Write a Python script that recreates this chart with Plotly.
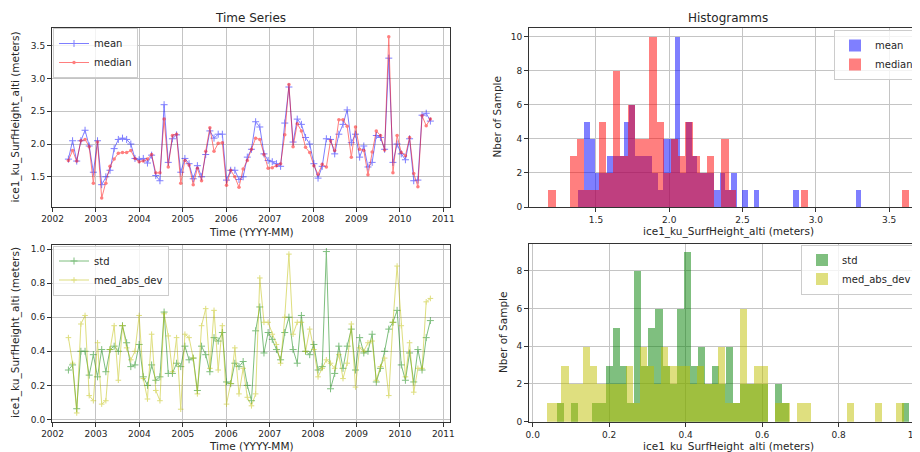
import numpy as np
import pandas as pd
import plotly.graph_objects as go

# ---------------- data ----------------
dates = pd.date_range("2002-05-14", periods=88, freq="35D")

mean_vals = [1.77, 2.05, 1.74, 2.05, 2.21, 1.97, 1.57, 2.05, 1.38, 1.50,
             1.60, 1.93, 2.07, 2.09, 2.07, 2.00, 1.78, 1.76, 1.78, 1.71,
             1.83, 1.52, 1.44, 2.60, 1.72, 2.08, 2.14, 1.57, 1.78, 1.70,
             1.47, 1.67, 1.50, 1.84, 2.20, 2.09, 2.15, 2.15, 1.45, 1.60,
             1.60, 1.46, 1.50, 1.80, 1.92, 2.34, 2.26, 1.85, 1.75, 1.73,
             1.70, 1.66, 2.32, 2.87, 2.03, 2.38, 2.30, 2.10, 2.00, 1.70,
             1.48, 1.66, 2.08, 2.07, 1.85, 2.15, 2.30, 2.52, 2.02, 2.15,
             1.80, 1.97, 1.65, 1.72, 2.13, 2.10, 1.92, 3.31, 1.72, 2.00,
             1.85, 1.76, 2.08, 1.44, 1.45, 2.44, 2.47, 2.35]

median_vals = [1.75, 1.90, 1.74, 2.05, 2.07, 1.96, 1.40, 2.03, 1.175, 1.40,
               1.66, 1.77, 1.86, 1.87, 1.87, 1.90, 1.78, 1.73, 1.74, 1.77,
               1.84, 1.56, 1.56, 2.38, 1.65, 2.13, 2.15, 1.40, 1.75, 1.68,
               1.38, 1.63, 1.44, 1.89, 2.25, 1.89, 2.01, 2.02, 1.37, 1.60,
               1.50, 1.34, 1.62, 1.75, 1.92, 2.09, 2.07, 1.84, 1.63, 1.64,
               1.67, 1.70, 2.14, 2.91, 1.96, 2.31, 2.20, 1.95, 1.87, 1.67,
               1.54, 1.69, 1.65, 2.05, 1.90, 2.37, 2.37, 2.27, 1.80, 2.26,
               1.92, 1.90, 1.53, 1.88, 2.20, 2.13, 1.91, 3.636, 1.56, 2.13,
               1.87, 1.82, 2.10, 1.55, 1.35, 2.43, 2.28, 2.38]

std_vals = [0.29, 0.32, 0.063, 0.40, 0.40, 0.26, 0.38, 0.25, 0.41, 0.28,
            0.41, 0.43, 0.40, 0.55, 0.45, 0.31, 0.32, 0.44, 0.25, 0.20,
            0.32, 0.23, 0.25, 0.63, 0.27, 0.27, 0.33, 0.31, 0.43, 0.35,
            0.36, 0.17, 0.43, 0.38, 0.28, 0.48, 0.46, 0.51, 0.22, 0.21,
            0.33, 0.31, 0.34, 0.20, 0.11, 0.52, 0.66, 0.39, 0.51, 0.47,
            0.41, 0.35, 0.51, 0.60, 0.41, 0.33, 0.61, 0.40, 0.38, 0.44,
            0.29, 0.31, 0.985, 0.18, 0.27, 0.43, 0.30, 0.43, 0.53, 0.29,
            0.48, 0.39, 0.40, 0.50, 0.22, 0.30, 0.40, 0.53, 0.57, 0.64,
            0.32, 0.23, 0.39, 0.22, 0.41, 0.29, 0.48, 0.58]

mad_vals = [0.48, 0.33, 0.038, 0.56, 0.61, 0.14, 0.11, 0.45, 0.09, 0.11,
            0.41, 0.55, 0.23, 0.55, 0.42, 0.35, 0.40, 0.61, 0.24, 0.12,
            0.50, 0.17, 0.11, 0.62, 0.49, 0.28, 0.48, 0.06, 0.50, 0.48,
            0.36, 0.15, 0.55, 0.65, 0.30, 0.64, 0.29, 0.55, 0.09, 0.21,
            0.42, 0.15, 0.30, 0.13, 0.08, 0.15, 0.83, 0.57, 0.57, 0.50,
            0.44, 0.33, 0.60, 0.97, 0.50, 0.57, 0.57, 0.40, 0.53, 0.41,
            0.25, 0.30, 0.35, 0.33, 0.30, 0.38, 0.24, 0.33, 0.56, 0.19,
            0.42, 0.40, 0.45, 0.46, 0.23, 0.31, 0.36, 0.14, 0.57, 0.90,
            0.55, 0.25, 0.45, 0.16, 0.30, 0.30, 0.69, 0.71]

# histogram counts (50 bins between each series' min and max)
mean_counts = [1, 5, 4, 2, 2, 3, 3, 3, 5, 6, 3, 3, 3, 2, 1, 4, 4, 10, 2, 5,
               3, 2, 2, 2, 1, 2, 1, 2, 0, 1, 0, 1, 0, 0, 0, 0, 0, 0, 1, 0,
               0, 0, 0, 0, 0, 0, 0, 0, 0, 1]
median_counts = [1, 0, 0, 3, 4, 1, 1, 5, 2, 8, 3, 6, 4, 4, 10, 5, 2, 4, 3, 5,
                 3, 2, 3, 0, 4, 1, 0, 0, 0, 0, 0, 0, 0, 0, 0, 1, 0, 0, 0, 0,
                 0, 0, 0, 0, 0, 0, 0, 0, 0, 1]
std_counts = [1, 0, 1, 0, 0, 1, 1, 3, 5, 3, 1, 8, 3, 5, 6, 3, 2, 6, 9, 3,
              4, 2, 3, 2, 4, 1, 2, 2, 2, 2, 0, 2, 1, 0, 0, 0, 0, 0, 0, 0,
              0, 0, 0, 0, 0, 0, 0, 0, 0, 1]
mad_counts = [1, 1, 3, 2, 2, 4, 3, 2, 2, 2, 2, 3, 1, 4, 3, 2, 4, 3, 3, 3,
              2, 3, 2, 2, 4, 1, 1, 6, 2, 3, 3, 0, 1, 1, 0, 1, 1, 0, 0, 0,
              0, 0, 1, 0, 0, 0, 1, 0, 0, 1]

year_ticks = [str(y) for y in range(2002, 2012)]

# ---------------- styling ----------------
# The page body has an 8px margin, so the figure is 8px smaller and all
# reference pixel positions are shifted by that offset.
OFF = 8
W, H = 920 - OFF, 452 - OFF
FONT = "DejaVu Sans"
TXT = "#262626"
GRID = "#c4c4c4"
SPINE = "#333333"

def px_x(p):
    return (p - OFF) / W

def px_y(p):
    return 1 - (p - OFF) / H

BLUE = "rgba(0,0,255,0.5)"
RED = "rgba(255,0,0,0.5)"
GREEN = "rgba(0,128,0,0.5)"
YELLOW = "rgba(191,191,0,0.5)"


def bins(vals, n=50):
    edges = np.linspace(min(vals), max(vals), n + 1)
    return (edges[:-1] + edges[1:]) / 2, edges[1] - edges[0]


fig = go.Figure()

# --- time series (top left) ---
fig.add_trace(go.Scatter(x=dates, y=mean_vals, name="mean", mode="lines+markers",
                         line=dict(color="rgb(0,0,255)", width=1),
                         marker=dict(symbol="cross-thin", size=5,
                                     line=dict(width=1, color="rgb(0,0,255)")),
                         opacity=0.5, xaxis="x", yaxis="y", legend="legend"))
fig.add_trace(go.Scatter(x=dates, y=median_vals, name="median", mode="lines+markers",
                         line=dict(color="rgb(255,0,0)", width=1),
                         marker=dict(symbol="circle", size=3.5, color="rgb(255,0,0)"),
                         opacity=0.5, xaxis="x", yaxis="y", legend="legend"))

# --- histograms (top right) ---
c, w = bins(mean_vals)
fig.add_trace(go.Bar(x=c, y=mean_counts, width=w, name="mean",
                     marker=dict(color=BLUE, line=dict(width=0)),
                     xaxis="x2", yaxis="y2", legend="legend2"))
c, w = bins(median_vals)
fig.add_trace(go.Bar(x=c, y=median_counts, width=w, name="median",
                     marker=dict(color=RED, line=dict(width=0)),
                     xaxis="x2", yaxis="y2", legend="legend2"))

# --- time series (bottom left) ---
fig.add_trace(go.Scatter(x=dates, y=std_vals, name="std", mode="lines+markers",
                         line=dict(color="rgb(0,128,0)", width=1),
                         marker=dict(symbol="cross-thin", size=5,
                                     line=dict(width=1, color="rgb(0,128,0)")),
                         opacity=0.5, xaxis="x3", yaxis="y3", legend="legend3"))
fig.add_trace(go.Scatter(x=dates, y=mad_vals, name="med_abs_dev", mode="lines+markers",
                         line=dict(color="rgb(191,191,0)", width=1),
                         marker=dict(symbol="cross-thin", size=4,
                                     line=dict(width=1, color="rgb(191,191,0)")),
                         opacity=0.5, xaxis="x3", yaxis="y3", legend="legend3"))

# --- histograms (bottom right) ---
c, w = bins(std_vals)
fig.add_trace(go.Bar(x=c, y=std_counts, width=w, name="std",
                     marker=dict(color=GREEN, line=dict(width=0)),
                     xaxis="x4", yaxis="y4", legend="legend4"))
c, w = bins(mad_vals)
fig.add_trace(go.Bar(x=c, y=mad_counts, width=w, name="med_abs_dev",
                     marker=dict(color=YELLOW, line=dict(width=0)),
                     xaxis="x4", yaxis="y4", legend="legend4"))

tickfont = dict(family=FONT, size=9, color=TXT)
common = dict(showline=True, linecolor=SPINE, linewidth=1, ticks="outside",
              ticklen=4, tickwidth=1, tickcolor=SPINE, showgrid=True,
              gridcolor=GRID, gridwidth=1, zeroline=False, tickfont=tickfont,
              ticklabeloverflow="allow")

L_dom = [px_x(52), px_x(450)]
R_dom = [px_x(529), 1.0]

fig.update_layout(
    width=W, height=H,
    margin=dict(l=0, r=0, t=0, b=0, autoexpand=False),
    paper_bgcolor="white", plot_bgcolor="white",
    barmode="overlay", bargap=0,
    font=dict(family=FONT, size=10, color=TXT),
    xaxis=dict(domain=L_dom, anchor="y", type="date", mirror=True,
               range=["2001-12-27", "2011-02-26"],
               tickvals=[f"{y}-01-01" for y in year_ticks], ticktext=year_ticks, **common),
    yaxis=dict(domain=[px_y(206.5), px_y(28)], anchor="x", mirror=True,
               range=[1.047, 3.77], tickvals=[1.5, 2.0, 2.5, 3.0, 3.5],
               tickformat=".1f", **common),
    xaxis2=dict(domain=R_dom, anchor="y2", mirror=True, range=[1.043, 3.711],
                tickvals=[1.5, 2.0, 2.5, 3.0, 3.5], tickformat=".1f", **common),
    yaxis2=dict(domain=[px_y(207), px_y(28)], anchor="x2", range=[0, 10.5],
                tickvals=[0, 2, 4, 6, 8, 10], **common),
    xaxis3=dict(domain=L_dom, anchor="y3", type="date", mirror=True,
                range=["2001-12-27", "2011-02-26"],
                tickvals=[f"{y}-01-01" for y in year_ticks], ticktext=year_ticks, **common),
    yaxis3=dict(domain=[px_y(421.5), px_y(245)], anchor="x3", mirror=True,
                range=[-0.012, 1.0235], tickvals=[0.0, 0.2, 0.4, 0.6, 0.8, 1.0],
                tickformat=".1f", **common),
    xaxis4=dict(domain=R_dom, anchor="y4", mirror=True, range=[-0.0097, 1.013],
                tickvals=[0.0, 0.2, 0.4, 0.6, 0.8, 1.0], tickformat=".1f", **common),
    yaxis4=dict(domain=[px_y(421.7), px_y(243.5)], anchor="x4", range=[0, 9.45],
                tickvals=[0, 2, 4, 6, 8], **common),
)

leg_common = dict(xanchor="left", yanchor="top", bgcolor="rgba(255,255,255,0.8)",
                  bordercolor="#cccccc", borderwidth=1,
                  font=dict(family=FONT, size=10, color=TXT), tracegroupgap=0)
fig.update_layout(
    legend=dict(x=px_x(53), y=px_y(28), **leg_common),
    legend2=dict(x=px_x(834), y=px_y(30), **leg_common),
    legend3=dict(x=px_x(53), y=px_y(245.5), **leg_common),
    legend4=dict(x=px_x(801), y=px_y(244.5), **leg_common),
)

def ann(text, x, y, size, angle=0):
    fig.add_annotation(text=text, x=px_x(x), y=px_y(y), xref="paper", yref="paper",
                       showarrow=False, xanchor="center", yanchor="middle",
                       textangle=angle, font=dict(family=FONT, size=size, color=TXT))

ann("Time Series", 250.5, 18, 12)
ann("Histogramms", 728, 18, 12)
ann("Time (YYYY-MM)", 251, 231.5, 10.5)
ann("Time (YYYY-MM)", 251, 446, 10.5)
ann("ice1_ku_SurfHeight_alti (meters)", 728, 231.5, 10.5)
ann("ice1_ku_SurfHeight_alti (meters)", 728, 446, 10.5)
ann("ice1_ku_SurfHeight_alti (meters)", 15, 117.5, 10.5, -90)
ann("ice1_ku_SurfHeight_alti (meters)", 15, 333, 10.5, -90)
ann("Nber of Sample", 497, 117.5, 10.5, -90)
ann("Nber of Sample", 503, 333, 10.5, -90)

fig.write_html("out.html")
